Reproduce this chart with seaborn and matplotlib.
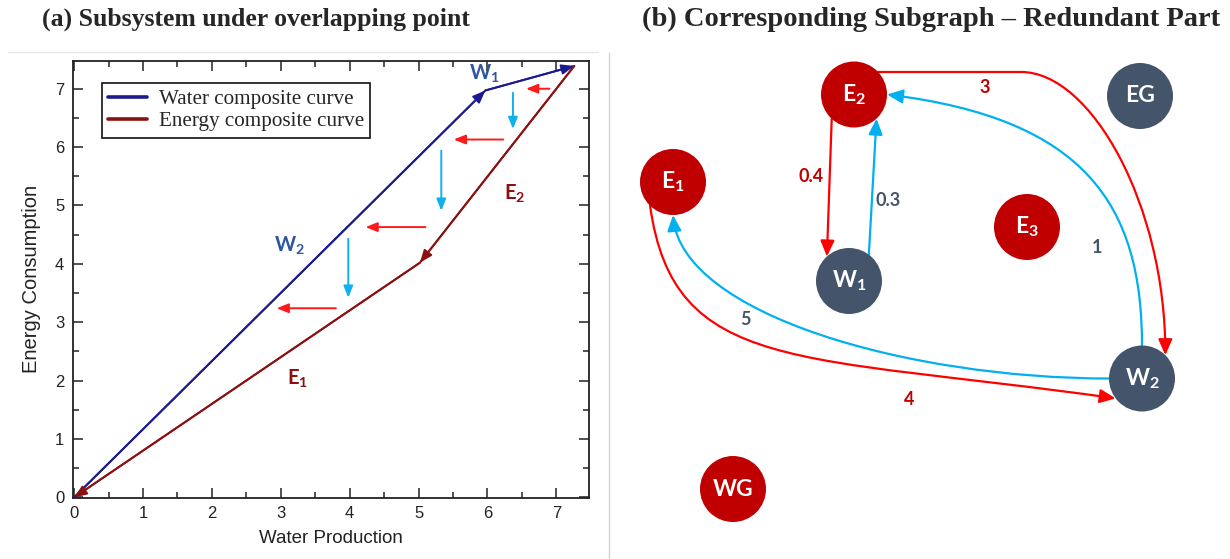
import numpy as np
import pandas as pd
import matplotlib
matplotlib.use("Agg")
import matplotlib.pyplot as plt
from matplotlib.path import Path
from matplotlib.patches import FancyArrowPatch, Circle
from matplotlib.lines import Line2D
from matplotlib.ticker import MultipleLocator
import seaborn as sns

# ---------------- panel (a): composite curves ----------------
series_names = ["Water composite curve", "Energy composite curve"]
water_x = [0.0, 5.97, 7.26]
water_y = [0.0, 6.97, 7.39]
energy_x = [7.26, 5.02, 0.0]
energy_y = [7.39, 4.02, 0.0]

# stream labels placed beside the curve segments
stream_names = ["W1", "W2", "E1", "E2"]
stream_x = [5.95, 3.12, 3.25, 6.40]
stream_y = [7.27, 4.33, 2.05, 5.22]

# horizontal (energy) shift arrows
shift_from_x = [6.90, 6.23, 5.10, 3.80]
shift_to_x = [6.56, 5.51, 4.23, 2.94]
shift_y = [7.00, 6.13, 4.63, 3.24]

# vertical (water) drop arrows
drop_x = [6.37, 5.33, 3.98]
drop_from_y = [6.93, 5.94, 4.43]
drop_to_y = [6.31, 4.91, 3.42]

# ---------------- panel (b): subgraph ----------------
node_names = ["E1", "E2", "E3", "EG", "W1", "W2", "WG"]
node_x = [673, 854, 1027, 1140, 849, 1142, 733]
node_y = [377, 464.5, 332, 463, 278, 180.5, 70]
node_group = ["red", "red", "red", "slate", "slate", "slate", "red"]

edge_src = ["E2", "W1", "E2", "W2", "W2", "E1"]
edge_dst = ["W1", "E2", "W2", "E2", "E1", "W2"]
edge_weight = [0.4, 0.3, 3, 1, 5, 4]

# edge routing: attach angles on the circles, tangent directions, handle lengths
edge_route = [
    dict(out_angle=227.5, in_angle=132, out_dir=None, in_dir=None, lead=0, h=None),
    dict(out_angle=53, in_angle=-47, out_dir=None, in_dir=None, lead=0, h=None),
    dict(out_angle=43, in_angle=45, out_dir=0, in_dir=-90, lead=143, h=(70, 150)),
    dict(out_angle=90, in_angle=0, out_dir=90, in_dir=173, lead=0, h=(140, 200)),
    dict(out_angle=180, in_angle=-90, out_dir=180, in_dir=95, lead=0, h=(200, 100)),
    dict(out_angle=226, in_angle=217, out_dir=-82, in_dir=-8, lead=0, h=(170, 320)),
]
edge_label_place = [
    (0.42, -19, 0),
    (0.40, 16, 0),
    (0.22, 0, -16),
    (0.28, -27, -13),
    (0.745, -7, -14),
    (0.61, 6, -28),
]

# ---------------- styling ----------------
NAVY = "#1b1b8f"
MAROON = "#8b1010"
LABEL_BLUE = "#2e55a0"
ARROW_RED = "#ff1a1a"
ARROW_BLUE = "#10b0ee"
NODE_COL = {"red": "#c00000", "slate": "#44546a"}
EDGE_COL = {"E": "#ff0000", "W": "#00b0f0"}
WEIGHT_COL = {"E": "#c00000", "W": "#44546a"}

sns.set_theme(style="ticks")
plt.rcParams["font.family"] = ["Liberation Sans", "DejaVu Sans"]
plt.rcParams["mathtext.fontset"] = "custom"
plt.rcParams["mathtext.rm"] = "Lato"
plt.rcParams["mathtext.bf"] = "Lato:bold"
plt.rcParams["mathtext.it"] = "Lato:italic"

W, H = 1230, 559
fig = plt.figure(figsize=(W / 100, H / 100), dpi=100)
fig.patch.set_facecolor("white")


def sub_label(name):
    if name[1:].isdigit():
        return r"$\mathbf{%s}_{\mathbf{%s}}$" % (name[0], name[1:])
    return name


# ---- panel (a)
ax = fig.add_axes([72.7 / W, 1 - 498 / H, (589.4 - 72.7) / W, (498 - 60.7) / H])
df = pd.DataFrame({
    "x": water_x + energy_x,
    "y": water_y + energy_y,
    "curve": [series_names[0]] * len(water_x) + [series_names[1]] * len(energy_x),
})
sns.lineplot(data=df, x="x", y="y", hue="curve", sort=False, estimator=None,
             palette=[NAVY, MAROON], linewidth=1.4, ax=ax)

for xs, ys, col in [(water_x, water_y, NAVY), (energy_x, energy_y, MAROON)]:
    for i in range(len(xs) - 1):
        ax.annotate("", xy=(xs[i + 1], ys[i + 1]), xytext=(xs[i], ys[i]),
                    arrowprops=dict(arrowstyle="-|>,head_length=0.75,head_width=0.3",
                                    color=col, lw=1.4, shrinkA=0, shrinkB=0,
                                    mutation_scale=10))

for x0, x1, y in zip(shift_from_x, shift_to_x, shift_y):
    ax.annotate("", xy=(x1, y), xytext=(x0, y),
                arrowprops=dict(arrowstyle="-|>,head_length=0.7,head_width=0.28",
                                color=ARROW_RED, lw=1.4, shrinkA=0, shrinkB=0,
                                mutation_scale=10))
for x, y0, y1 in zip(drop_x, drop_from_y, drop_to_y):
    ax.annotate("", xy=(x, y1), xytext=(x, y0),
                arrowprops=dict(arrowstyle="-|>,head_length=0.7,head_width=0.28",
                                color=ARROW_BLUE, lw=1.4, shrinkA=0, shrinkB=0,
                                mutation_scale=10))

for name, x, y in zip(stream_names, stream_x, stream_y):
    ax.text(x, y, sub_label(name), ha="center", va="center", fontsize=14.5,
            color=LABEL_BLUE if name.startswith("W") else MAROON)

ax.set_xlim(-0.02, 7.48)
ax.set_ylim(-0.01, 7.48)
ax.xaxis.set_major_locator(MultipleLocator(1))
ax.yaxis.set_major_locator(MultipleLocator(1))
ax.xaxis.set_minor_locator(MultipleLocator(0.5))
ax.yaxis.set_minor_locator(MultipleLocator(0.5))
ax.tick_params(which="both", direction="in", top=True, right=True,
               width=1.1, color="#222222", labelsize=12, labelcolor="#222222")
ax.tick_params(which="major", length=7, pad=6)
ax.tick_params(which="minor", length=4)
for s in ax.spines.values():
    s.set_linewidth(1.3)
    s.set_color("#222222")
    s.set_visible(True)
ax.set_xlabel("Water Production", fontsize=13.5, color="#222222", labelpad=6)
ax.set_ylabel("Energy Consumption", fontsize=14.5, color="#222222", labelpad=10)

handles, labels = ax.get_legend_handles_labels()
leg = ax.legend(handles, labels, loc="upper left",
                bbox_to_anchor=((101.7 - 72.7) / (589.4 - 72.7), (498 - 83.3) / (498 - 60.7)),
                borderaxespad=0, frameon=True, fancybox=False, framealpha=1,
                edgecolor="#111111", handlelength=1.85, handletextpad=0.55,
                borderpad=0.3, labelspacing=0.1,
                prop=dict(family="Liberation Serif", size=15.2))
leg.get_frame().set_linewidth(1.2)
for ln in leg.get_lines():
    ln.set_linewidth(2.6)

# ---- panel (b)
bx = fig.add_axes([610 / W, 0, (W - 610) / W, 1])
bx.set_xlim(610, W)
bx.set_ylim(0, H)
bx.axis("off")

node_r = 33.0
pos = {n: np.array([x, y]) for n, x, y in zip(node_names, node_x, node_y)}


def unit(angle):
    a = np.deg2rad(angle)
    return np.array([np.cos(a), np.sin(a)])


def bezier_points(verts, codes):
    pts = [verts[0]]
    i = 1
    while i < len(verts):
        if codes[i] == Path.LINETO:
            pts.append(verts[i])
            i += 1
        else:
            a = pts[-1]
            b, c, d = verts[i:i + 3]
            t = np.linspace(0, 1, 80)[1:, None]
            seg = (1 - t) ** 3 * a + 3 * (1 - t) ** 2 * t * b + 3 * (1 - t) * t ** 2 * c + t ** 3 * d
            pts.extend(list(seg))
            i += 3
    return np.array(pts)


for src, dst, wgt, route, place in zip(edge_src, edge_dst, edge_weight, edge_route, edge_label_place):
    p0 = pos[src] + node_r * unit(route["out_angle"])
    p3 = pos[dst] + node_r * unit(route["in_angle"])
    verts, codes = [p0], [Path.MOVETO]
    start = p0
    if route["lead"]:
        start = p0 + route["lead"] * unit(route["out_dir"])
        verts.append(start)
        codes.append(Path.LINETO)
    if route["h"] is None:
        verts.append(p3)
        codes.append(Path.LINETO)
    else:
        h1, h2 = route["h"]
        c1 = start + h1 * unit(route["out_dir"])
        c2 = p3 - h2 * unit(route["in_dir"])
        verts += [c1, c2, p3]
        codes += [Path.CURVE4] * 3
    kind = src[0]
    arrow = FancyArrowPatch(path=Path(verts, codes),
                            arrowstyle="-|>,head_length=0.95,head_width=0.42",
                            mutation_scale=10, color=EDGE_COL[kind], lw=1.6,
                            zorder=2)
    bx.add_patch(arrow)

    pts = bezier_points(verts, codes)
    seglen = np.r_[0, np.cumsum(np.hypot(*np.diff(pts, axis=0).T))]
    frac, dx, dy = place
    s = frac * seglen[-1]
    lx = np.interp(s, seglen, pts[:, 0]) + dx
    ly = np.interp(s, seglen, pts[:, 1]) + dy
    bx.text(lx, ly, f"{wgt:g}", ha="center", va="center", fontsize=13,
            fontfamily="Lato", fontweight="bold", color=WEIGHT_COL[kind], zorder=4)

for name, grp in zip(node_names, node_group):
    bx.add_patch(Circle(pos[name], node_r, facecolor=NODE_COL[grp],
                        edgecolor="none", zorder=3))
    bx.text(pos[name][0], pos[name][1], sub_label(name), ha="center", va="center",
            fontsize=16.5, fontfamily="Lato", fontweight="bold", color="white",
            zorder=4)

# ---- titles and frame lines
fig.text(256 / W, 1 - 19 / H, "(a) Subsystem under overlapping point",
         ha="center", va="center", fontfamily="Liberation Serif",
         fontweight="bold", fontsize=18.5)
fig.text(931 / W, 1 - 19 / H, "(b) Corresponding Subgraph \u2013 Redundant Part",
         ha="center", va="center", fontfamily="Liberation Serif",
         fontweight="bold", fontsize=20.5)
fig.add_artist(Line2D([609 / W, 609 / W], [0, 1 - 53 / H], transform=fig.transFigure,
                      color="#d2d2d2", lw=1))
fig.add_artist(Line2D([8 / W, 598 / W], [1 - 52 / H, 1 - 52 / H], transform=fig.transFigure,
                      color="#e6e6e6", lw=1))

fig.savefig("out.png", dpi=100, facecolor="white")
